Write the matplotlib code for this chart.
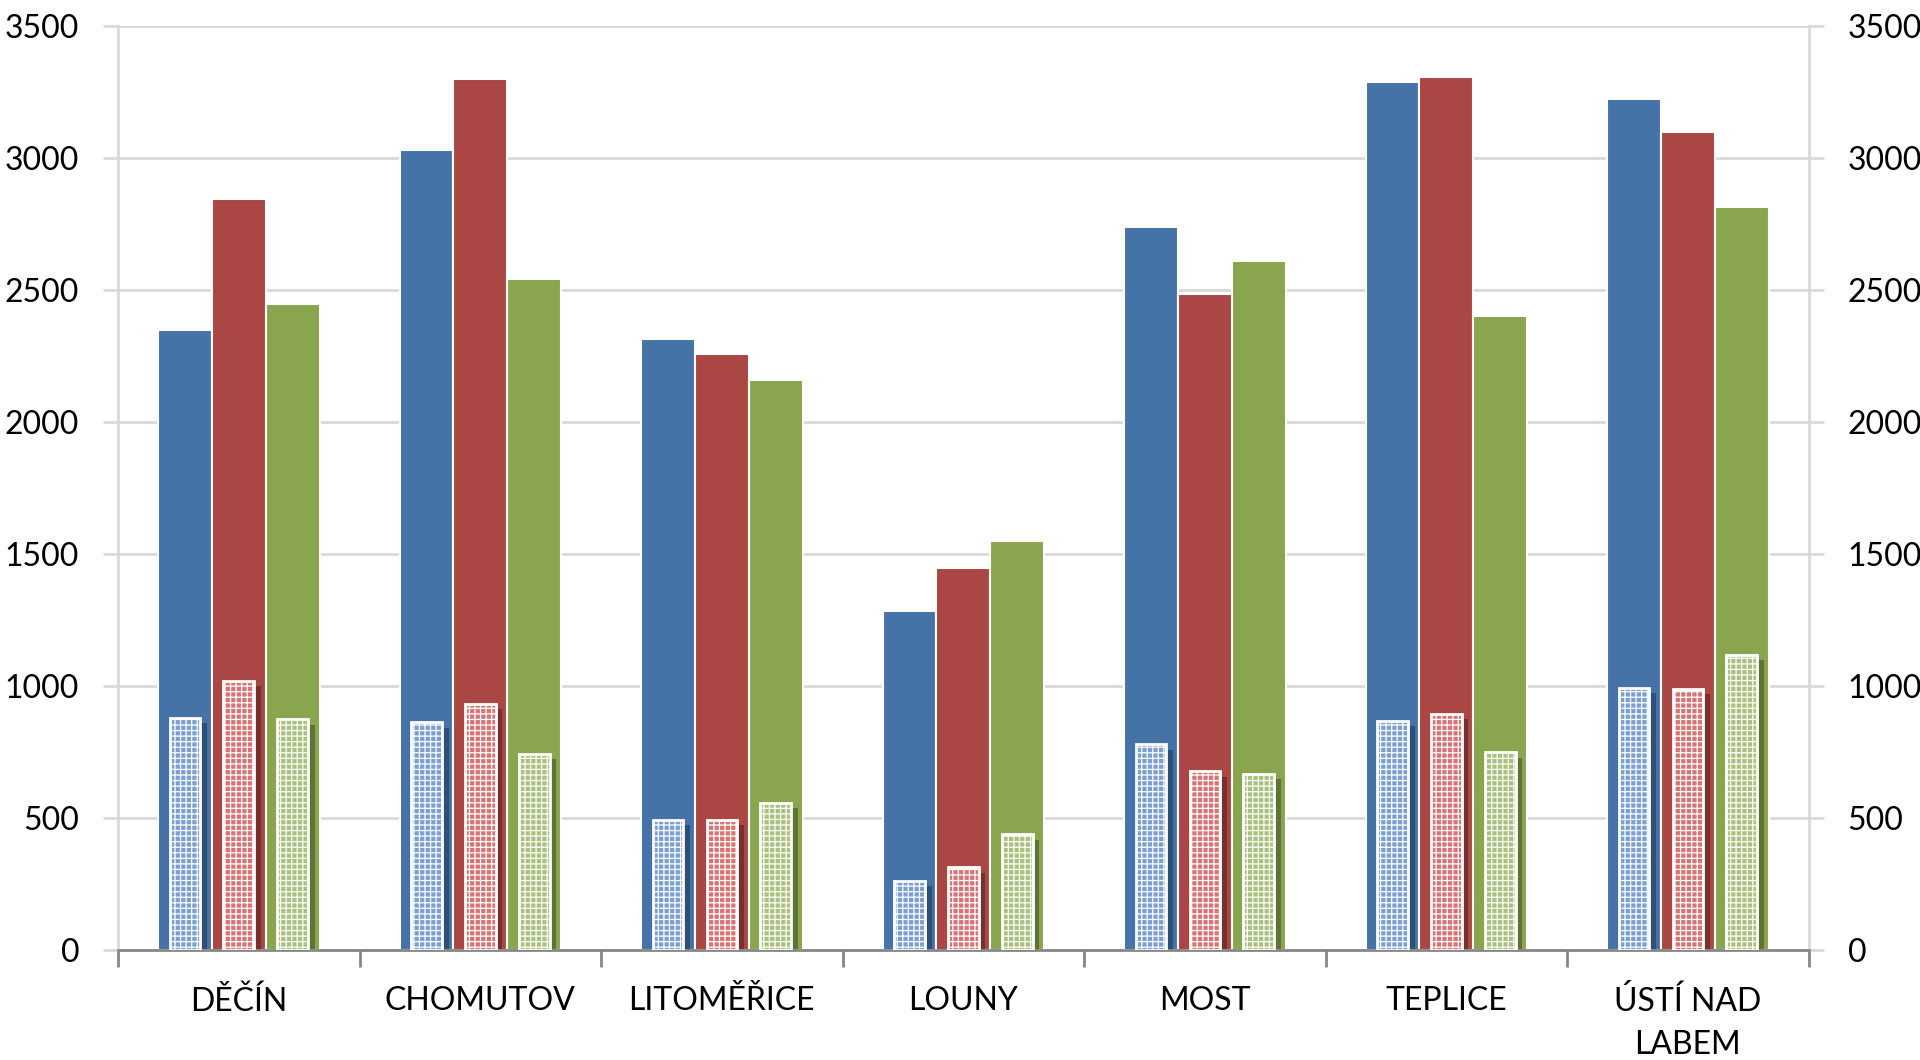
import matplotlib
matplotlib.use('Agg')
import matplotlib.pyplot as plt
import numpy as np

plt.rcParams['font.family'] = ['Lato', 'DejaVu Sans']
plt.rcParams['hatch.linewidth'] = 0.9

# data
kategorie = ['DĚČÍN', 'CHOMUTOV', 'LITOMĚŘICE', 'LOUNY', 'MOST', 'TEPLICE', 'ÚSTÍ NAD\nLABEM']
modra = [2347, 3032, 2315, 1284, 2740, 3287, 3222]
cervena = [2846, 3298, 2258, 1446, 2485, 3306, 3097]
zelena = [2448, 2541, 2160, 1548, 2610, 2401, 2814]
modra_mala = [878, 862, 493, 262, 779, 867, 994]
cervena_mala = [1020, 932, 493, 313, 677, 895, 989]
zelena_mala = [874, 743, 558, 438, 668, 748, 1118]

barvy = ['#4572A7', '#AA4643', '#89A54E']
barvy_svetle = ['#7b9fd3', '#d97474', '#a9c17c']

fig = plt.figure(figsize=(19.2, 10.6), dpi=100)
ax = fig.add_axes([0.0615, 0.1038, 0.8805, 0.8717])

x = np.arange(len(kategorie))
w = 0.223
w_mala = 0.127

velke = [modra, cervena, zelena]
male = [modra_mala, cervena_mala, zelena_mala]
for i in range(3):
    off = (i - 1) * w
    ax.bar(x + off, velke[i], width=w, color=barvy[i], edgecolor='white', linewidth=1.5, zorder=2)
    # stin za malym sloupcem
    ax.bar(x + off + 0.028, np.array(male[i]) - 20, width=w_mala, color='black', alpha=0.3,
           linewidth=0, zorder=2.5)
    ax.bar(x + off, male[i], width=w_mala, color=barvy_svetle[i], edgecolor='white',
           linewidth=2, hatch='+++', zorder=3)

ax.set_xlim(-0.5, len(kategorie) - 0.5)
ax.set_ylim(0, 3500)
ax.set_yticks(np.arange(0, 3501, 500))
ax.yaxis.grid(True, color='#d9d9d9', linewidth=2, zorder=0)
ax.set_axisbelow(True)

ax.set_xticks(x)
ax.set_xticklabels(kategorie, fontsize=23, linespacing=1.55)
ax.set_xticks(np.arange(-0.5, len(kategorie)), minor=True)
ax.tick_params(axis='x', which='major', length=0, pad=26)
ax.tick_params(axis='x', which='minor', length=12, width=2, color='#868686', direction='out')
ax.tick_params(axis='y', length=11, width=2, color='#d9d9d9', labelsize=23, pad=17,
               left=True, right=True, labelleft=True, labelright=True)

for s in ['left', 'right']:
    ax.spines[s].set_color('#d9d9d9')
    ax.spines[s].set_linewidth(2)
ax.spines['top'].set_visible(False)
ax.spines['bottom'].set_color('#868686')
ax.spines['bottom'].set_linewidth(2)

fig.savefig('out.png', dpi=100)
